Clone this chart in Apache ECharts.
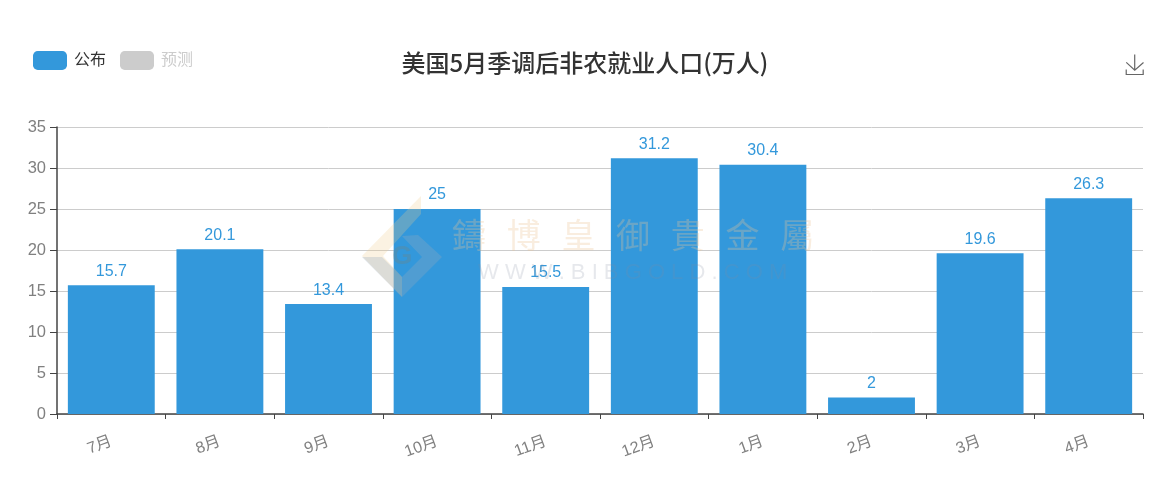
<!DOCTYPE html>
<html><head><meta charset="utf-8">
<style>html,body{margin:0;padding:0;background:#fff}#c{width:1170px;height:492px}</style>
<script src="https://cdn.jsdelivr.net/npm/echarts@6/dist/echarts.min.js"></script>
</head><body><div id="c"></div>
<script>
const categories = ['7月','8月','9月','10月','11月','12月','1月','2月','3月','4月'];
const published = [15.7,20.1,13.4,25,15.5,31.2,30.4,2,19.6,26.3];
const forecast = [];
const titleText = '美国5月季调后非农就业人口(万人)';
const watermarkChars = ['鑄','博','皇','御','貴','金','屬'];
const watermarkUrl = 'W W W . B I B G O L D . C O M';
const FONT = '"Liberation Sans","Noto Sans CJK SC",sans-serif';
const chart = echarts.init(document.getElementById('c'));
chart.setOption({
  animation:false,
  backgroundColor:'#fff',
  title:{text:titleText,left:'center',top:51,itemGap:0,padding:0,
    textStyle:{fontFamily:'"Noto Sans CJK SC",sans-serif',fontSize:24,fontWeight:500,color:'#333'}},
  legend:{left:28,top:46,itemWidth:34,itemHeight:19,itemGap:14,
    textStyle:{fontFamily:FONT,fontSize:16,color:'#333',padding:[0,0,0,2]},
    inactiveColor:'#ccc',
    selected:{'公布':true,'预测':false},
    data:['公布','预测']},
  toolbox:{show:true,right:19,top:47,itemSize:20,padding:5,
    iconStyle:{borderColor:'#666',borderWidth:1.2},
    feature:{saveAsImage:{title:''}}},
  grid:{left:57,right:27,top:127,bottom:78,containLabel:false},
  xAxis:{type:'category',data:categories,
    axisLine:{lineStyle:{color:'#444',width:1.5}},
    axisTick:{show:true,length:5,lineStyle:{color:'#444'}},
    axisLabel:{rotate:20,margin:27,fontFamily:FONT,fontSize:16,color:'#808080',interval:0}},
  yAxis:{type:'value',min:0,max:35,interval:5,
    axisLine:{show:true,lineStyle:{color:'#444',width:1.5}},
    axisTick:{show:true,length:7,lineStyle:{color:'#444'}},
    axisLabel:{margin:11,fontFamily:FONT,fontSize:16.5,color:'#808080'},
    splitLine:{lineStyle:{color:'#ccc',width:1}}},
  series:[
    {name:'公布',type:'bar',data:published,barCategoryGap:'20%',
      itemStyle:{color:'#3398DB'},
      label:{show:true,position:'top',distance:6,fontFamily:FONT,fontSize:16,color:'#3398DB'}},
    {name:'预测',type:'bar',data:forecast,itemStyle:{color:'#ccc'}}
  ],
  graphic:[
    {type:'polygon',z:100,silent:true,shape:{points:[[362,256],[421,196],[421,214],[383,256],[402,277],[402,297]]},style:{fill:'rgba(240,205,140,0.25)'}},
    {type:'polygon',z:100,silent:true,shape:{points:[[362,257],[402,297],[442,257],[418,235],[402,236],[422,257],[402,277],[382,257]]},style:{fill:'rgba(150,170,190,0.3)'}},
    {type:'text',z:100,silent:true,x:392,y:244,style:{text:'G',font:'bold 26px "Liberation Sans"',fill:'rgba(120,130,120,0.3)'}},
    ...watermarkChars.map((ch,i)=>({type:'text',z:100,silent:true,x:452+i*54.7,y:218,
      style:{text:ch,font:'34px "Noto Sans CJK TC"',fill:'rgba(235,195,150,0.3)'}})),
    {type:'text',z:100,silent:true,x:478,y:262,style:{text:watermarkUrl,font:'22px "Liberation Sans"',fill:'rgba(130,140,160,0.2)'}}
  ]
});
</script></body></html>
